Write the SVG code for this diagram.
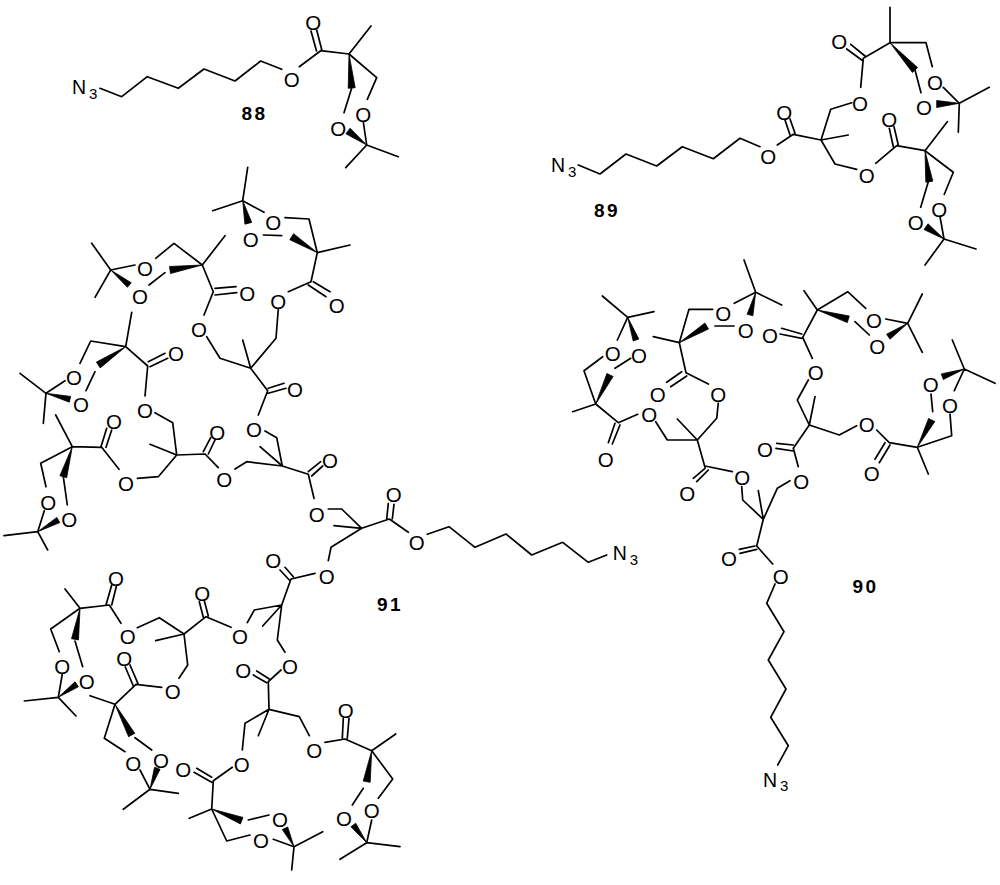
<svg xmlns="http://www.w3.org/2000/svg" width="1000" height="885" viewBox="0 0 1000 885">
<style>
.b{fill:none;stroke:#000;stroke-width:1.7;stroke-linecap:round;stroke-linejoin:round}
.w{fill:#000;stroke:#000;stroke-width:.8;stroke-linejoin:round}
.o,.n{font-family:"Liberation Sans",Arial,sans-serif;fill:#000}
.o{font-size:20.5px;text-anchor:middle}
.n{font-size:19.5px}
.s{font-size:15px}
.l{font-family:"Liberation Sans",Arial,sans-serif;font-size:19px;font-weight:700;letter-spacing:2.5px;text-anchor:middle;fill:#000}
</style>
<rect width="1000" height="885" fill="#fff"/>

<g id="compound-88">
<path class="b" d="M100,88.3L121.7,96.7L147.3,76.7L178.3,88.3L204,69L235,81L260.7,61L281.7,69.3M299.3,66.7L320.7,50.7L349,54L371,26M349,54L376.7,77.7L367.3,99.3M321.7,49.5L316.7,30M316.5,51L311,31M351.7,88L344,112.7M363.3,122L366.7,145L398.3,156.7M366.7,145L345.7,167.7"/>
<polygon class="w" points="349,54 348.2,88.3 355.2,87.7"/>
<polygon class="w" points="366.7,145 350.1,128.2 345.9,133.8"/>
<text class="n" x="72" y="94">N<tspan class="s" dx="3" dy="5">3</tspan></text>
<text class="o" x="291.7" y="86.5">O</text>
<text class="o" x="313.3" y="30">O</text>
<text class="o" x="363.3" y="122.3">O</text>
<text class="o" x="338.3" y="135.6">O</text>
<text class="l" x="254.5" y="120">88</text>
</g>

<g id="compound-89">
<path class="b" d="M578.3,165L600,174L626,154L656.7,166L682.3,146.7L713.3,158.7L740,138.3L760,146.7M777.3,145L793.3,134.3L821,140L848.3,135M795,133.3L790,119M790,135L785,120M821,140L830.7,109.3L851.7,102.7M821,140L835,164L856.7,169.3M875.7,163.3L896.7,145.7L925,150.7L947.3,121.7M898.3,145L894,126.7M893.3,146.7L889.3,128.3M925,150.7L953.3,172.3L944.3,194.3M928.3,181.7L920.7,207.3M940,216.7L944,239L976,249M944,239L925,265M860.7,87.3L863.3,58.3L890,42.7L890,7.3M865,56L850.7,44.3M861.7,60L846.7,49M890,42.7L926,42.7L932.3,66.7M915,70L921,92.7M943.3,87.3L959.3,103.3L989.3,87.3M959.3,103.3L958.3,132.3"/>
<polygon class="w" points="890,42.7 912.4,72.4 917.6,67.6"/>
<polygon class="w" points="959.3,103.3 936.7,107.5 936.7,100.5"/>
<polygon class="w" points="925,150.7 925.8,182.2 932.8,181.2"/>
<polygon class="w" points="944,239 928,223.8 924,229.6"/>
<text class="n" x="551" y="172">N<tspan class="s" dx="3" dy="5">3</tspan></text>
<text class="o" x="768.3" y="164">O</text>
<text class="o" x="784.3" y="119.6">O</text>
<text class="o" x="860" y="110.6">O</text>
<text class="o" x="866.7" y="183">O</text>
<text class="o" x="889.3" y="126.6">O</text>
<text class="o" x="939.3" y="216.6">O</text>
<text class="o" x="915.7" y="229.6">O</text>
<text class="o" x="839.3" y="49">O</text>
<text class="o" x="935" y="90">O</text>
<text class="o" x="924" y="114.6">O</text>
<text class="l" x="607" y="216.7">89</text>
</g>

<g id="compound-91">
<path class="b" d="M247.7,167.3L242.7,200.7L212.7,210.7M242.7,200.7L264,212.3M285,217.7L309,219L317.3,252.7L350,245M263.3,235L281.7,235.7M317.3,252.7L311,281.7L288.3,291.7M313.3,281.7L330,291.7M308.3,285L326,296.7M278.3,309L276,338.3L250.7,368.3L242.7,340M250.7,368.3L220,358.3L206.7,336.7M204,315L213.3,291.7L202.3,265L225,235.7M215,288.3L236,286.7M215,295L236.7,292.7M202.3,265L174,243.3L155.7,258.3M165,272.7L149,285M135,265L110.7,270L91.7,243.3M110.7,270L95,297.3M131.7,312.3L125.7,346.7L90.7,341L80,363.3M125.7,346.7L147.7,366L145,396M148.3,361.7L165,353.3M150,366.7L167.7,358.3M95,371.7L86,390.7M65,380.7L46,393.3L20,373.3M46,393.3L43.3,423.3M155,412.7L172.7,422.7L176.7,455L150,444.3M176.7,455L158.3,476.7L137.3,478.3M119,469.3L101.7,447.3L72.3,446.7L55.7,415M106,447.3L111.7,430M101,446.7L106.7,428.3M72.3,446.7L40.7,463.3L46,486.7M63.3,476.7L67.3,505M44.3,510.7L37.7,531.7L4,535.7M37.7,531.7L47.7,550M176.7,455L205,454L218.3,467.7M208.3,454L215,440M203.3,451.7L210.7,437.7M235,469L246.7,461.7L282.3,466L260,446.7M282.3,466L276.7,437.7L265,431M258.3,415L267.7,390.7L250.7,368.3M268.3,388.3L284,383.3M268.3,393.3L286,388.3M282.3,466L308.3,474.3L314,498.3M308.3,471.7L320.7,461.7M311.7,476L322.7,466M328.3,509L341.7,509L361.7,528.3L334,525.7M361.7,528.3L331,547.3L328.3,560.7M361.7,528.3L389.3,519L408.3,532.3M392.3,519L394,504.3M386.7,519L388.3,503.3M427.3,534.3L449,526.7L475,547.3L506,534L531.7,555L562.7,542.3L588.3,562.3L606.7,555"/>
<path class="b" d="M315,573.3L291,579L281.7,605L262.7,626M285,567.3L293.3,576.7M280,570L289.3,580M281.7,605L254.3,610L247.3,622.7M231,627.3L206,616.7L184,634L155.7,640.7M208.3,616L204.3,600.7M203.3,617.3L199.3,601.7M184,634L159.3,617.7L137.3,627.7M121,623.3L109.3,605L80,608.3L65,589M111.7,605L116.7,585M106,605L111.7,585M80,608.3L50.7,629L59.3,651.7M75,641L82.7,666.7M62.3,674L58.3,697.3L24.3,701M58.3,697.3L76,716M184,634L187.7,665L179,678.3M161.7,687.3L136,684.3L115,704.3L90,695.7M138.3,684.3L130,665M133.3,686L125.3,667M115,704.3L104.3,738.3L125,751.7M135,737.7L151.7,750M140,770L150,789.3L178.3,793.3M150,789.3L123.3,809.3M281.7,605L277.3,640L285,652.3M281,670L268.3,681.7L269,709.3L258.3,735.7M269.3,679L256.7,671M266.7,682.7L253.3,675M269,709.3L245,723.3L242.3,750M232.3,767.3L213.3,780.7L211.7,809L189.3,818.3M211.7,777.3L196.7,768.3M211.7,782.3L194,772.3M211.7,809L226.7,841L250,835M248.3,820L269,815M273.3,839.3L294,846.7L322.7,831.7M294,846.7L291.7,870M269,709.3L299.3,716.7L309.3,735.7M325,742.3L345,739L371.7,750.7L395.7,734M347.3,738.3L349,718.3M342.3,738.3L343.3,718.3M371.7,750.7L392.7,779L378.3,798.3M363.3,788.3L352.3,805M371.7,820L366.7,842.7L400,846.7M366.7,842.7L340,859.3"/>
<polygon class="w" points="242.7,200.7 244.9,224.2 251.7,222.4"/>
<polygon class="w" points="317.3,252.7 293.6,233.7 289.8,239.7"/>
<polygon class="w" points="202.3,265 169.5,266.5 170.5,273.5"/>
<polygon class="w" points="110.7,270 127.4,287.3 131.2,282.7"/>
<polygon class="w" points="125.7,346.7 100.2,367.9 96.4,362.1"/>
<polygon class="w" points="46,393.3 69.3,402.2 70.7,396.4"/>
<polygon class="w" points="72.3,446.7 66.7,477.7 59.9,475.7"/>
<polygon class="w" points="37.7,531.7 59.8,522.6 56.8,517.4"/>
<polygon class="w" points="80,608.3 78.5,639.9 71.5,638.7"/>
<polygon class="w" points="58.3,697.3 78.4,686.8 75,681.8"/>
<polygon class="w" points="115,704.3 128.6,736.7 134.8,733.3"/>
<polygon class="w" points="150,789.3 160.1,769.3 154.5,767.3"/>
<polygon class="w" points="211.7,809 240.4,824 243,817.4"/>
<polygon class="w" points="294,846.7 287.7,827 282.3,829.6"/>
<polygon class="w" points="371.7,750.7 370.2,782.3 363.2,781.1"/>
<polygon class="w" points="366.7,842.7 355.7,823.2 350.9,826.8"/>
<text class="o" x="273.3" y="229.6">O</text>
<text class="o" x="250.7" y="247.3">O</text>
<text class="o" x="336.7" y="313">O</text>
<text class="o" x="278.3" y="309">O</text>
<text class="o" x="199" y="337.3">O</text>
<text class="o" x="247.3" y="300.6">O</text>
<text class="o" x="145" y="276.3">O</text>
<text class="o" x="140" y="304">O</text>
<text class="o" x="176" y="360.6">O</text>
<text class="o" x="74" y="385">O</text>
<text class="o" x="81" y="412.3">O</text>
<text class="o" x="145" y="418">O</text>
<text class="o" x="126" y="490.6">O</text>
<text class="o" x="114" y="429">O</text>
<text class="o" x="48.3" y="509.6">O</text>
<text class="o" x="69.3" y="526.6">O</text>
<text class="o" x="217.3" y="440">O</text>
<text class="o" x="224.3" y="486.6">O</text>
<text class="o" x="254" y="437.3">O</text>
<text class="o" x="295" y="397.3">O</text>
<text class="o" x="330" y="468">O</text>
<text class="o" x="316.7" y="521.6">O</text>
<text class="o" x="326.7" y="584">O</text>
<text class="o" x="393.7" y="502.3">O</text>
<text class="o" x="416.7" y="549.6">O</text>
<text class="n" x="612.7" y="560">N<tspan class="s" dx="3" dy="5">3</tspan></text>
<text class="l" x="390" y="610.7">91</text>
<text class="o" x="273.3" y="568.3">O</text>
<text class="o" x="240" y="644">O</text>
<text class="o" x="202.3" y="601.3">O</text>
<text class="o" x="127.7" y="644">O</text>
<text class="o" x="116" y="585.6">O</text>
<text class="o" x="62.3" y="674">O</text>
<text class="o" x="86.7" y="689">O</text>
<text class="o" x="172.7" y="699">O</text>
<text class="o" x="124.3" y="666.3">O</text>
<text class="o" x="133.3" y="770.6">O</text>
<text class="o" x="161" y="768.3">O</text>
<text class="o" x="290" y="674">O</text>
<text class="o" x="243.3" y="678.3">O</text>
<text class="o" x="241.7" y="771.6">O</text>
<text class="o" x="183.3" y="777.3">O</text>
<text class="o" x="261" y="848">O</text>
<text class="o" x="280" y="826.6">O</text>
<text class="o" x="314.3" y="758">O</text>
<text class="o" x="345.7" y="718.3">O</text>
<text class="o" x="371.7" y="818.3">O</text>
<text class="o" x="344" y="825.6">O</text>
</g>

<g id="compound-90">
<path class="b" d="M602.3,296L627.7,317.3L654,311.7M617.3,340L627.7,317.3M602.7,356.7L584,370.7L595.7,404L572.7,411.7M615,368.3L630.7,358.3M595.7,404L618.3,422.7L637.7,414.3M620,425L612.3,444M615,423.3L608.3,442.7M655.7,421.7L667.3,440L697.3,440L677.3,419M697.3,440L716.7,418.3L718.3,403M708.3,384L686,372.7L679.3,342.7L653.3,336.7M681.7,371.7L666.7,382.3M686.7,376L670.7,386.7M679.3,342.7L689,309.3L712.7,309.3M715,326L734,326M734.3,303.3L755.7,292.3L744,260M755.7,292.3L781.7,305M697.3,440L705,467.3M705,466L732.3,471.7M693.3,478.3L705,468.3M696.7,481.7L708.3,470M804,290.7L817.3,310L847.7,291.7L865.7,308.3M885.7,319L907.7,323.3L922.3,294M907.7,323.3L922.3,352.3M855,321.7L869.3,335M817.3,310L802.7,337.3L812.3,358.3M781.7,328.3L801.7,334M780,334L801.7,338.3M808.3,380L797.3,400L809.3,425L815,396.7M809.3,425L839.3,435L856.7,425.7M876.7,430L889.3,442.7L917.3,447.3L928.3,474M890,445L879.3,462.7M885,442.7L875,459.3M917.3,447.3L951.7,435.7L950,414M932.7,411.7L931,394M954.3,390.7L964.3,369L952.3,340M964.3,369L995,383.3M809.3,425L793.3,448.3L798.3,466.7M793.3,445L776.7,443.3M793.3,451L776,448.3M790,480.7L777.3,488.3L763.3,519.3L758.3,490.7M763.3,519.3L742.7,500L741.7,486.7M763.3,519.3L756.7,546L772.7,564M755,546L739.3,549.3M756.7,549.3L740,553.3M775,584L766.7,603.3L784,631.7L768.3,660L786,689L770.7,717.3L788.3,745.7L777.7,765"/>
<polygon class="w" points="627.7,317.3 633.2,341 638.8,339"/>
<polygon class="w" points="595.7,404 613.1,376.5 606.9,373.5"/>
<polygon class="w" points="679.3,342.7 708.5,329 704.9,323"/>
<polygon class="w" points="755.7,292.3 752.9,315.7 747.1,314.3"/>
<polygon class="w" points="817.3,310 847.3,322.6 849.3,316"/>
<polygon class="w" points="907.7,323.3 890,339.2 886.6,334.2"/>
<polygon class="w" points="917.3,447.3 934.8,421.6 928.6,418.4"/>
<polygon class="w" points="964.3,369 943.3,379.5 941.3,373.9"/>
<text class="o" x="612.7" y="360.6">O</text>
<text class="o" x="639" y="363">O</text>
<text class="o" x="605.7" y="466.6">O</text>
<text class="o" x="649.3" y="421.6">O</text>
<text class="o" x="718.3" y="402.3">O</text>
<text class="o" x="657.7" y="402.3">O</text>
<text class="o" x="723.3" y="321.3">O</text>
<text class="o" x="745.7" y="338.3">O</text>
<text class="o" x="874" y="328.3">O</text>
<text class="o" x="877.3" y="354">O</text>
<text class="o" x="770" y="343.3">O</text>
<text class="o" x="815.7" y="380">O</text>
<text class="o" x="866.7" y="431.6">O</text>
<text class="o" x="871.7" y="481.3">O</text>
<text class="o" x="950" y="413">O</text>
<text class="o" x="930.7" y="392.3">O</text>
<text class="o" x="765" y="457.3">O</text>
<text class="o" x="801.3" y="489">O</text>
<text class="o" x="742.3" y="485">O</text>
<text class="o" x="687.3" y="500.6">O</text>
<text class="o" x="729" y="566.3">O</text>
<text class="o" x="780.7" y="584">O</text>
<text class="n" x="763" y="786.7">N<tspan class="s" dx="3" dy="4">3</tspan></text>
<text class="l" x="865.5" y="593.3">90</text>
</g>
</svg>
